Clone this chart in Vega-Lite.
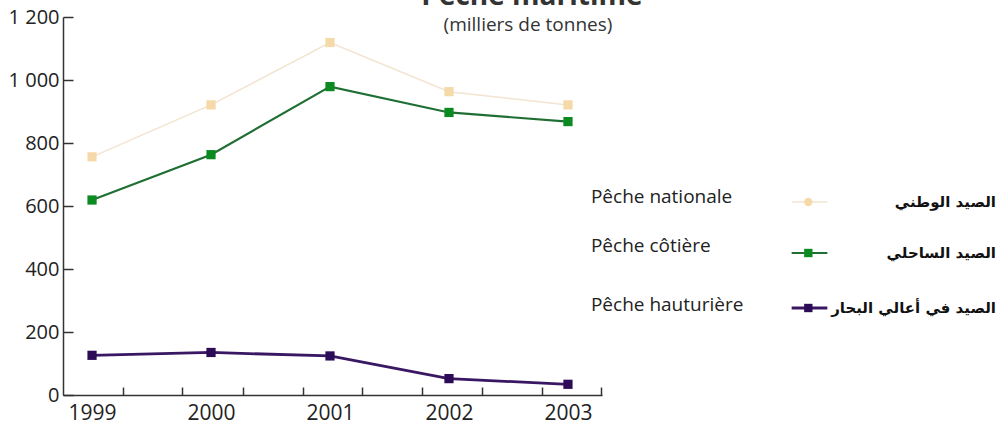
{
  "$schema": "https://vega.github.io/schema/vega-lite/v6.json",
  "autosize": {"type": "none"},
  "width": 539,
  "height": 378,
  "padding": {"left": 63, "top": 17, "right": 402, "bottom": 29},
  "background": "white",
  "config": {"view": {"stroke": null}, "font": "Open Sans"},
  "datasets": {
    "peche": [
      {"annee": 1999, "serie": "Pêche nationale", "valeur": 756},
      {"annee": 2000, "serie": "Pêche nationale", "valeur": 921},
      {"annee": 2001, "serie": "Pêche nationale", "valeur": 1119},
      {"annee": 2002, "serie": "Pêche nationale", "valeur": 963},
      {"annee": 2003, "serie": "Pêche nationale", "valeur": 921},
      {"annee": 1999, "serie": "Pêche côtière", "valeur": 619},
      {"annee": 2000, "serie": "Pêche côtière", "valeur": 763},
      {"annee": 2001, "serie": "Pêche côtière", "valeur": 979},
      {"annee": 2002, "serie": "Pêche côtière", "valeur": 897},
      {"annee": 2003, "serie": "Pêche côtière", "valeur": 868},
      {"annee": 1999, "serie": "Pêche hauturière", "valeur": 126},
      {"annee": 2000, "serie": "Pêche hauturière", "valeur": 135},
      {"annee": 2001, "serie": "Pêche hauturière", "valeur": 124},
      {"annee": 2002, "serie": "Pêche hauturière", "valeur": 52},
      {"annee": 2003, "serie": "Pêche hauturière", "valeur": 34}
    ],
    "legende": [
      {"serie": "Pêche nationale", "fr": "Pêche nationale", "ar": "الصيد الوطني"},
      {"serie": "Pêche côtière", "fr": "Pêche côtière", "ar": "الصيد الساحلي"},
      {"serie": "Pêche hauturière", "fr": "Pêche hauturière", "ar": "الصيد في أعالي البحار"}
    ],
    "titres": [{"titre": "Pêche maritime", "sous_titre": "(milliers de tonnes)"}]
  },
  "layer": [
    {
      "data": {"name": "peche"},
      "mark": {"type": "line"},
      "encoding": {
        "x": {
          "field": "annee", "type": "quantitative",
          "scale": {"domain": [1998.756, 2003.286], "nice": false, "zero": false},
          "axis": {
            "title": null, "grid": false,
            "values": [1999, 2000, 2001, 2002, 2003, 1999.26, 1999.76, 2000.27, 2000.77, 2001.27, 2001.77, 2002.28, 2002.78, 2003.28],
            "labelExpr": "datum.value % 1 === 0 ? format(datum.value, 'd') : ''",
            "tickOpacity": {"condition": {"test": "datum.value % 1 === 0", "value": 0}, "value": 1},
            "tickSize": -8, "tickWidth": 1.5, "tickColor": "#333",
            "domainColor": "#333", "domainWidth": 1.5,
            "labelFontSize": 21, "labelColor": "#222", "labelPadding": 15,
            "labelFlush": false, "labelOverlap": false, "labelFont": "Open Sans"
          }
        },
        "y": {
          "field": "valeur", "type": "quantitative",
          "scale": {"domain": [0, 1200], "nice": false, "zero": true},
          "axis": {
            "title": null, "grid": false,
            "values": [0, 200, 400, 600, 800, 1000, 1200],
            "labelExpr": "replace(format(datum.value, ','), ',', ' ')",
            "tickSize": -10, "tickWidth": 1.5, "tickColor": "#333",
            "domainColor": "#333", "domainWidth": 1.5,
            "labelFontSize": 20, "labelColor": "#222", "labelPadding": 14,
            "labelFont": "Open Sans"
          }
        },
        "stroke": {
          "field": "serie", "type": "nominal",
          "scale": {"domain": ["Pêche nationale", "Pêche côtière", "Pêche hauturière"], "range": ["#f2e4d0", "#1f6f35", "#3a1763"]},
          "legend": null
        },
        "strokeWidth": {
          "field": "serie", "type": "nominal",
          "scale": {"domain": ["Pêche nationale", "Pêche côtière", "Pêche hauturière"], "range": [1.5, 2.8, 2.8]},
          "legend": null
        }
      }
    },
    {
      "data": {"name": "peche"},
      "mark": {"type": "point", "shape": "square", "filled": true, "size": 85, "opacity": 1},
      "encoding": {
        "x": {"field": "annee", "type": "quantitative"},
        "y": {"field": "valeur", "type": "quantitative"},
        "fill": {
          "field": "serie", "type": "nominal",
          "scale": {"domain": ["Pêche nationale", "Pêche côtière", "Pêche hauturière"], "range": ["#f6d9a8", "#0b8a22", "#2c0b57"]},
          "legend": null
        }
      }
    },
    {
      "data": {"name": "titres"},
      "layer": [
        {
          "mark": {"type": "text", "align": "center", "baseline": "middle", "fontSize": 19, "color": "#333", "font": "Open Sans"},
          "encoding": {
            "x": {"datum": 2002.664, "type": "quantitative"},
            "y": {"datum": 1175, "type": "quantitative"},
            "text": {"field": "sous_titre"}
          }
        },
        {
          "mark": {"type": "text", "align": "center", "baseline": "alphabetic", "fontSize": 28, "fontWeight": "bold", "color": "#333", "font": "Open Sans"},
          "encoding": {
            "x": {"datum": 2002.697, "type": "quantitative"},
            "y": {"datum": 1238, "type": "quantitative"},
            "text": {"field": "titre"}
          }
        }
      ]
    },
    {
      "data": {"name": "legende"},
      "transform": [{"filter": "datum.serie === 'Pêche nationale'"}],
      "encoding": {"y": {"datum": 612.7, "type": "quantitative"}},
      "layer": [
        {"mark": {"type": "text", "align": "left", "baseline": "middle", "dy": -5, "fontSize": 19, "color": "#222", "font": "Open Sans"},
         "encoding": {"x": {"datum": 2003.193, "type": "quantitative"}, "text": {"field": "fr"}}},
        {"mark": {"type": "rule"},
         "encoding": {"x": {"datum": 2004.88, "type": "quantitative"}, "x2": {"datum": 2005.18}, "stroke": {"field": "serie", "type": "nominal", "legend": null}, "strokeWidth": {"field": "serie", "type": "nominal", "legend": null}}},
        {"mark": {"type": "point", "shape": "circle", "filled": true, "size": 70, "opacity": 1},
         "encoding": {"x": {"datum": 2005.02, "type": "quantitative"}, "fill": {"field": "serie", "type": "nominal", "legend": null}}},
        {"mark": {"type": "text", "align": "right", "baseline": "middle", "fontSize": 15, "fontWeight": "bold", "color": "#111", "font": "DejaVu Sans"},
         "encoding": {"x": {"datum": 2006.597, "type": "quantitative"}, "text": {"field": "ar"}}}
      ]
    },
    {
      "data": {"name": "legende"},
      "transform": [{"filter": "datum.serie === 'Pêche côtière'"}],
      "encoding": {"y": {"datum": 450.8, "type": "quantitative"}},
      "layer": [
        {"mark": {"type": "text", "align": "left", "baseline": "middle", "dy": -7, "fontSize": 19, "color": "#222", "font": "Open Sans"},
         "encoding": {"x": {"datum": 2003.193, "type": "quantitative"}, "text": {"field": "fr"}}},
        {"mark": {"type": "rule"},
         "encoding": {"x": {"datum": 2004.88, "type": "quantitative"}, "x2": {"datum": 2005.18}, "stroke": {"field": "serie", "type": "nominal", "legend": null}, "strokeWidth": {"field": "serie", "type": "nominal", "legend": null}}},
        {"mark": {"type": "point", "shape": "square", "filled": true, "size": 70, "opacity": 1},
         "encoding": {"x": {"datum": 2005.02, "type": "quantitative"}, "fill": {"field": "serie", "type": "nominal", "legend": null}}},
        {"mark": {"type": "text", "align": "right", "baseline": "middle", "fontSize": 15, "fontWeight": "bold", "color": "#111", "font": "DejaVu Sans"},
         "encoding": {"x": {"datum": 2006.597, "type": "quantitative"}, "text": {"field": "ar"}}}
      ]
    },
    {
      "data": {"name": "legende"},
      "transform": [{"filter": "datum.serie === 'Pêche hauturière'"}],
      "encoding": {"y": {"datum": 276.2, "type": "quantitative"}},
      "layer": [
        {"mark": {"type": "text", "align": "left", "baseline": "middle", "dy": -3, "fontSize": 19, "color": "#222", "font": "Open Sans"},
         "encoding": {"x": {"datum": 2003.193, "type": "quantitative"}, "text": {"field": "fr"}}},
        {"mark": {"type": "rule"},
         "encoding": {"x": {"datum": 2004.88, "type": "quantitative"}, "x2": {"datum": 2005.18}, "stroke": {"field": "serie", "type": "nominal", "legend": null}, "strokeWidth": {"field": "serie", "type": "nominal", "legend": null}}},
        {"mark": {"type": "point", "shape": "square", "filled": true, "size": 70, "opacity": 1},
         "encoding": {"x": {"datum": 2005.02, "type": "quantitative"}, "fill": {"field": "serie", "type": "nominal", "legend": null}}},
        {"mark": {"type": "text", "align": "right", "baseline": "middle", "fontSize": 15, "fontWeight": "bold", "color": "#111", "font": "DejaVu Sans"},
         "encoding": {"x": {"datum": 2006.597, "type": "quantitative"}, "text": {"field": "ar"}}}
      ]
    }
  ]
}
